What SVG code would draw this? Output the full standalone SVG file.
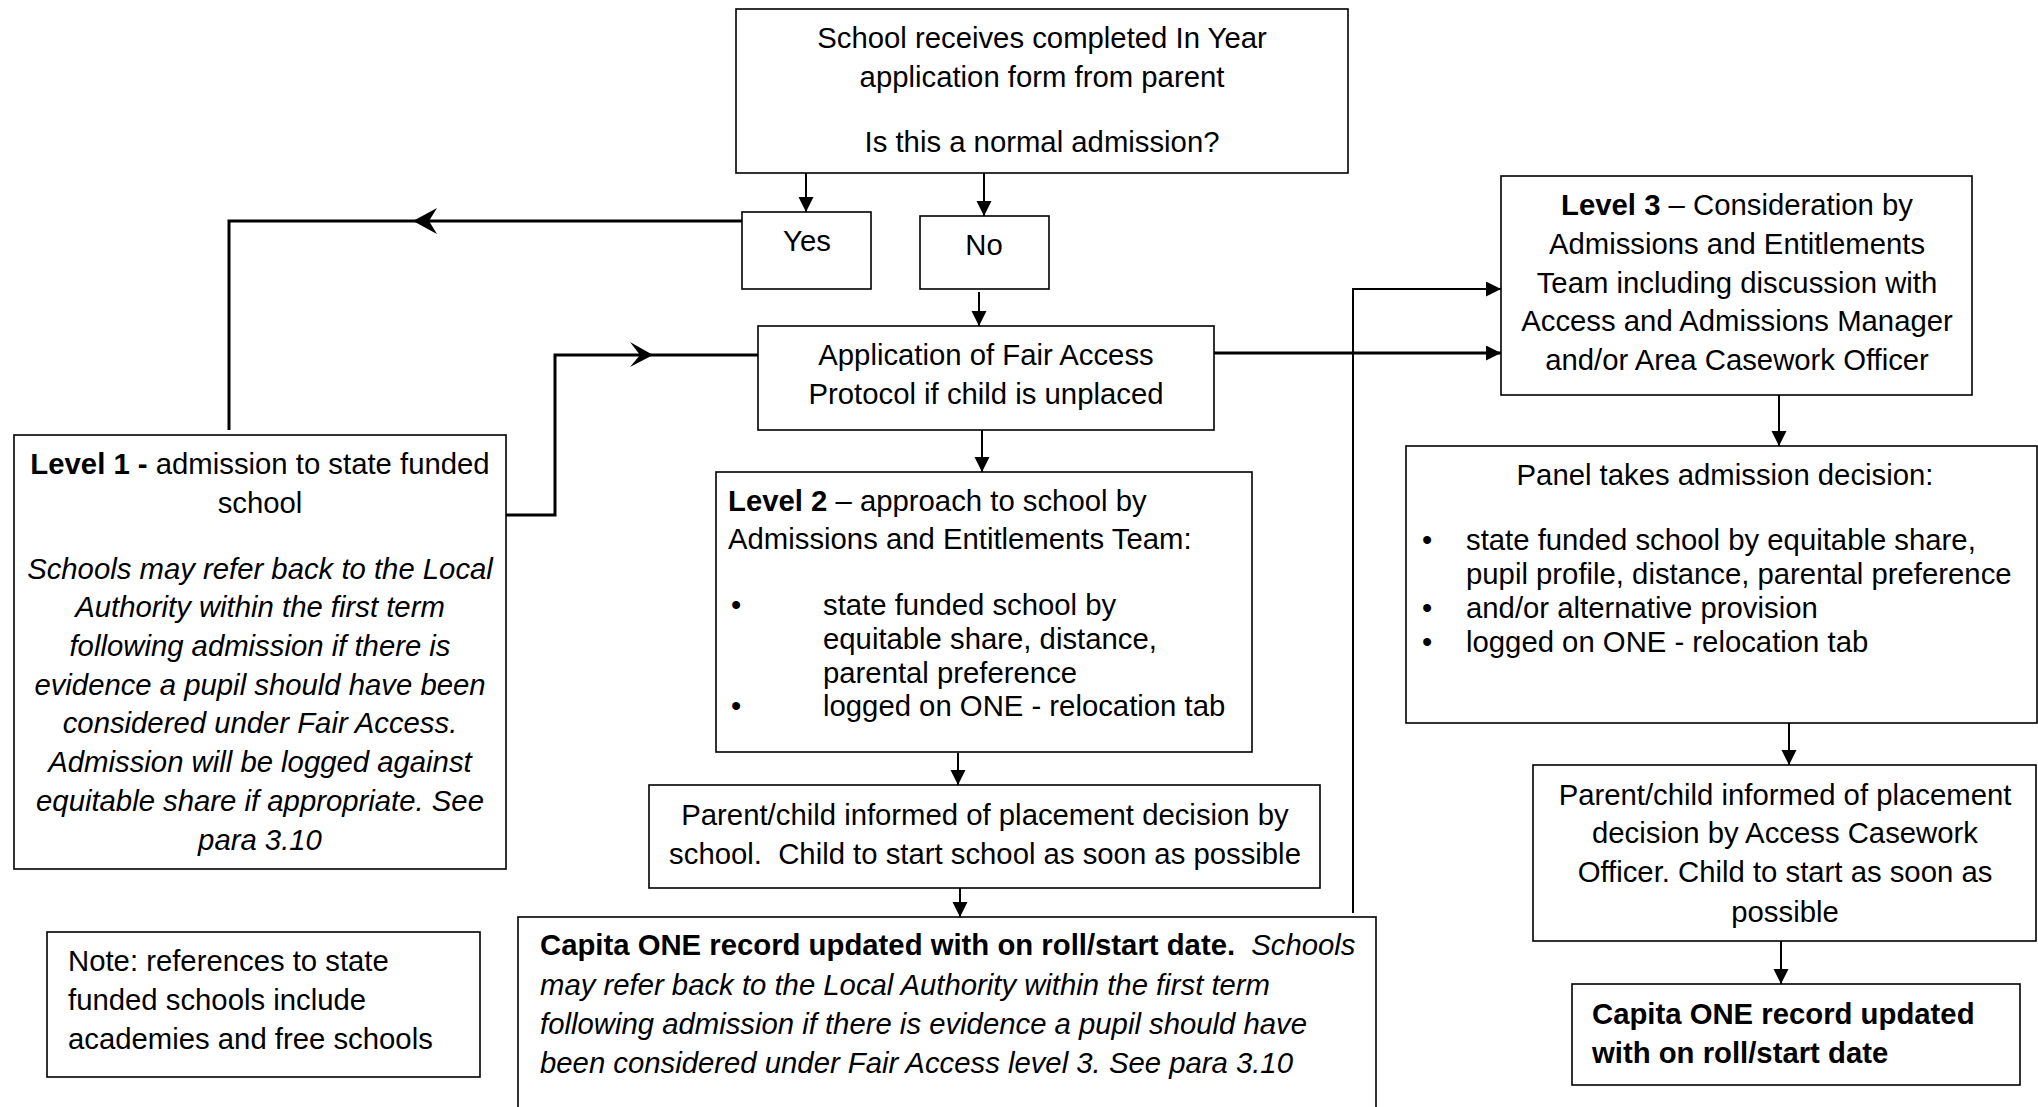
<svg xmlns="http://www.w3.org/2000/svg" width="2038" height="1107" viewBox="0 0 2038 1107">
<style>
  .box { fill: #fff; stroke: #000; stroke-width: 1.6; }
  .t { font-family: "Liberation Sans", Arial, sans-serif; font-size: 29.3px; fill: #000; }
  .c { text-anchor: middle; }
  .b { font-weight: bold; }
  .i { font-style: italic; }
  .thin { fill: none; stroke: #000; stroke-width: 2; }
  .thick { fill: none; stroke: #000; stroke-width: 3; }
  .head { fill: #000; stroke: none; }
</style>
<defs>
  <marker id="tri" markerUnits="userSpaceOnUse" markerWidth="16" markerHeight="16" refX="15" refY="7.5" orient="auto">
    <path d="M0,0 L15,7.5 L0,15 z" fill="#000"/>
  </marker>
</defs>
<rect width="2038" height="1107" fill="#fff"/>

<g id="connectors">
  <line class="thin" x1="806" y1="173" x2="806" y2="212" marker-end="url(#tri)"/>
  <line class="thin" x1="984" y1="173" x2="984" y2="216" marker-end="url(#tri)"/>
  <line class="thin" x1="979" y1="292" x2="979" y2="326" marker-end="url(#tri)"/>
  <line class="thin" x1="982" y1="430" x2="982" y2="472" marker-end="url(#tri)"/>
  <line class="thin" x1="958" y1="753" x2="958" y2="785" marker-end="url(#tri)"/>
  <line class="thin" x1="960" y1="888" x2="960" y2="917" marker-end="url(#tri)"/>
  <line class="thin" x1="1779" y1="395" x2="1779" y2="446" marker-end="url(#tri)"/>
  <line class="thin" x1="1789" y1="723" x2="1789" y2="765" marker-end="url(#tri)"/>
  <line class="thin" x1="1781" y1="941" x2="1781" y2="984" marker-end="url(#tri)"/>
  <!-- Yes to Level 1 -->
  <polyline class="thick" points="742,221 229,221 229,430"/>
  <polygon class="head" points="413,221 437,208 429,221 437,234"/>
  <!-- Level 1 to Fair Access -->
  <polyline class="thick" points="506,515 555,515 555,355 758,355"/>
  <polygon class="head" points="653,355 630,342 640,355 630,367"/>
  <!-- Fair Access to Level 3 -->
  <line class="thick" x1="1214" y1="353" x2="1501" y2="353" marker-end="url(#tri)"/>
  <!-- Capita back to Level 3 -->
  <polyline class="thin" points="1353,913 1353,289 1501,289" marker-end="url(#tri)"/>
</g>

<g id="node-start">
  <rect class="box" x="736" y="9" width="612" height="164"/>
  <text class="t c" x="1042" y="48">School receives completed In Year</text>
  <text class="t c" x="1042" y="87">application form from parent</text>
  <text class="t c" x="1042" y="152">Is this a normal admission?</text>
</g>

<g id="node-yes">
  <rect class="box" x="742" y="212" width="129" height="77"/>
  <text class="t c" x="807" y="251">Yes</text>
</g>

<g id="node-no">
  <rect class="box" x="920" y="216" width="129" height="73"/>
  <text class="t c" x="984" y="255">No</text>
</g>

<g id="node-fair-access">
  <rect class="box" x="758" y="326" width="456" height="104"/>
  <text class="t c" x="986" y="365">Application of Fair Access</text>
  <text class="t c" x="986" y="404">Protocol if child is unplaced</text>
</g>

<g id="node-level1">
  <rect class="box" x="14" y="435" width="492" height="434"/>
  <text class="t c" x="260" y="474"><tspan class="b">Level 1 -</tspan> admission to state funded</text>
  <text class="t c" x="260" y="513">school</text>
  <text class="t c i" x="260" y="579">Schools may refer back to the Local</text>
  <text class="t c i" x="260" y="617">Authority within the first term</text>
  <text class="t c i" x="260" y="656">following admission if there is</text>
  <text class="t c i" x="260" y="695">evidence a pupil should have been</text>
  <text class="t c i" x="260" y="733">considered under Fair Access.</text>
  <text class="t c i" x="260" y="772">Admission will be logged against</text>
  <text class="t c i" x="260" y="811">equitable share if appropriate. See</text>
  <text class="t c i" x="260" y="850">para 3.10</text>
</g>

<g id="node-level2">
  <rect class="box" x="716" y="472" width="536" height="280"/>
  <text class="t" x="728" y="511"><tspan class="b">Level 2</tspan> – approach to school by</text>
  <text class="t" x="728" y="549">Admissions and Entitlements Team:</text>
  <text class="t" x="731" y="615">•</text>
  <text class="t" x="823" y="615">state funded school by</text>
  <text class="t" x="823" y="649">equitable share, distance,</text>
  <text class="t" x="823" y="683">parental preference</text>
  <text class="t" x="731" y="716">•</text>
  <text class="t" x="823" y="716">logged on ONE - relocation tab</text>
</g>

<g id="node-parent-school">
  <rect class="box" x="649" y="785" width="671" height="103"/>
  <text class="t c" x="985" y="825">Parent/child informed of placement decision by</text>
  <text class="t c" x="985" y="864">school.&#160; Child to start school as soon as possible</text>
</g>

<g id="node-capita-school">
  <rect class="box" x="518" y="917" width="858" height="210"/>
  <text class="t" x="540" y="955"><tspan class="b">Capita ONE record updated with on roll/start date.</tspan><tspan class="i" dx="8"> Schools</tspan></text>
  <text class="t i" x="540" y="995">may refer back to the Local Authority within the first term</text>
  <text class="t i" x="540" y="1034">following admission if there is evidence a pupil should have</text>
  <text class="t i" x="540" y="1073">been considered under Fair Access level 3. See para 3.10</text>
</g>

<g id="node-note">
  <rect class="box" x="47" y="932" width="433" height="145"/>
  <text class="t" x="68" y="971">Note: references to state</text>
  <text class="t" x="68" y="1010">funded schools include</text>
  <text class="t" x="68" y="1049">academies and free schools</text>
</g>

<g id="node-level3">
  <rect class="box" x="1501" y="176" width="471" height="219"/>
  <text class="t c" x="1737" y="215"><tspan class="b">Level 3</tspan> – Consideration by</text>
  <text class="t c" x="1737" y="254">Admissions and Entitlements</text>
  <text class="t c" x="1737" y="293">Team including discussion with</text>
  <text class="t c" x="1737" y="331">Access and Admissions Manager</text>
  <text class="t c" x="1737" y="370">and/or Area Casework Officer</text>
</g>

<g id="node-panel">
  <rect class="box" x="1406" y="446" width="631" height="277"/>
  <text class="t c" x="1725" y="485">Panel takes admission decision:</text>
  <text class="t" x="1422" y="550">•</text>
  <text class="t" x="1466" y="550">state funded school by equitable share,</text>
  <text class="t" x="1466" y="584">pupil profile, distance, parental preference</text>
  <text class="t" x="1422" y="618">•</text>
  <text class="t" x="1466" y="618">and/or alternative provision</text>
  <text class="t" x="1422" y="652">•</text>
  <text class="t" x="1466" y="652">logged on ONE - relocation tab</text>
</g>

<g id="node-parent-officer">
  <rect class="box" x="1533" y="765" width="503" height="176"/>
  <text class="t c" x="1785" y="805">Parent/child informed of placement</text>
  <text class="t c" x="1785" y="843">decision by Access Casework</text>
  <text class="t c" x="1785" y="882">Officer. Child to start as soon as</text>
  <text class="t c" x="1785" y="922">possible</text>
</g>

<g id="node-capita-final">
  <rect class="box" x="1572" y="984" width="448" height="101"/>
  <text class="t b" x="1592" y="1024">Capita ONE record updated</text>
  <text class="t b" x="1592" y="1063">with on roll/start date</text>
</g>
</svg>
